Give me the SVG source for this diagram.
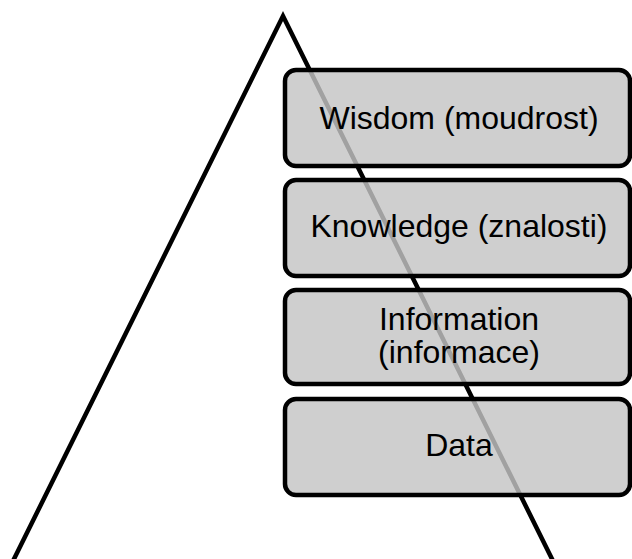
<svg xmlns="http://www.w3.org/2000/svg" width="632" height="559" viewBox="0 0 632 559">
<style>
.box{fill:#c4c4c4;fill-opacity:0.82;stroke:#000;stroke-width:4.5}
.lbl{font-family:"Liberation Sans",Arial,sans-serif;font-size:32px;fill:#000;text-anchor:middle}
</style>
<rect width="632" height="559" fill="#fff"/>
<g id="connectors">
<polyline points="13,561 283,16 553,561" fill="none" stroke="#000" stroke-width="4.5" stroke-linejoin="miter"/>
</g>
<g id="wisdom">
<rect class="box" x="285" y="70" width="345" height="96" rx="11"/>
<text class="lbl" x="459" y="129">Wisdom (moudrost)</text>
</g>
<g id="knowledge">
<rect class="box" x="285" y="180" width="345" height="96" rx="11"/>
<text class="lbl" x="459" y="237">Knowledge (znalosti)</text>
</g>
<g id="information">
<rect class="box" x="285" y="290" width="345" height="94" rx="11"/>
<text class="lbl" x="459" y="330">Information</text>
<text class="lbl" x="459" y="363">(informace)</text>
</g>
<g id="data">
<rect class="box" x="285" y="399" width="345" height="96" rx="11"/>
<text class="lbl" x="459" y="456">Data</text>
</g>
</svg>
